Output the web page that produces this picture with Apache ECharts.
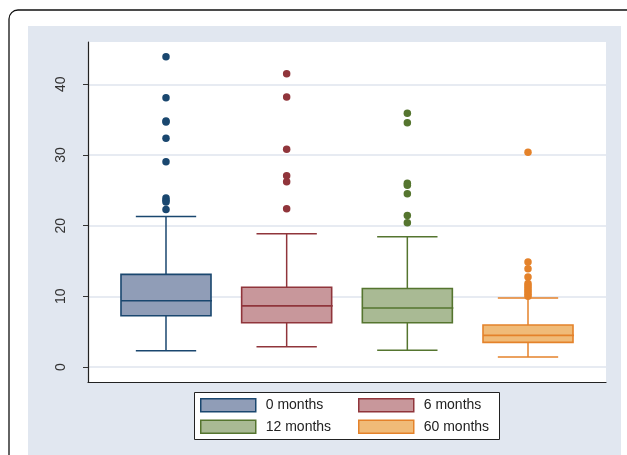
<!DOCTYPE html>
<html>
<head>
<meta charset="utf-8">
<script src="https://cdn.jsdelivr.net/npm/echarts@6/dist/echarts.min.js"></script>
<style>html,body{margin:0;padding:0;background:#fff}#c{width:627px;height:455px}</style>
</head>
<body>
<div id="c"></div>
<script>
// ---- data ----
const categories = ['0 months', '6 months', '12 months', '60 months'];
// [lower whisker, Q1, median, Q3, upper whisker]
const stats0 = [2.3, 7.26, 9.38, 13.1, 21.3];
const stats6 = [2.87, 6.27, 8.65, 11.28, 18.86];
const stats12 = [2.38, 6.27, 8.35, 11.1, 18.44];
const stats60 = [1.41, 3.49, 4.48, 5.94, 9.76];
const out0 = [43.9, 38.1, 34.8, 34.65, 32.35, 29.05, 23.9, 23.6, 23.35, 22.3];
const out6 = [41.5, 38.2, 30.8, 27.06, 26.2, 22.4];
const out12 = [35.9, 34.55, 26.0, 25.7, 24.5, 21.45, 20.4];
const out60 = [30.4, 14.85, 13.9, 12.75, 11.8, 11.5, 11.2, 10.9, 10.6, 10.3, 10.0];
const yTickInterval = 10;

const statsList = [stats0, stats6, stats12, stats60];
const outList = [out0, out6, out12, out60];
const strokes = ['#1a476f', '#90353b', '#55752f', '#e4822a'];
const fills = ['#909db7', '#c8979b', '#a9ba94', '#f0bb78'];

const BOX_W = 0.746, CAP_W = 0.5;
const FONT = '"Liberation Sans", Arial, Helvetica, sans-serif';

function makeRender(i) {
  return function (params, api) {
    const x = api.value(0);
    const lo = api.coord([x, api.value(1)]);
    const q1 = api.coord([x, api.value(2)]);
    const md = api.coord([x, api.value(3)]);
    const q3 = api.coord([x, api.value(4)]);
    const hi = api.coord([x, api.value(5)]);
    const hb = api.size([BOX_W, 0])[0] / 2;
    const hc = api.size([CAP_W, 0])[0] / 2;
    const c = lo[0];
    const ls = { stroke: strokes[i], lineWidth: 1.5 };
    return {
      type: 'group',
      children: [
        { type: 'line', shape: { x1: c, y1: lo[1], x2: c, y2: q1[1] }, style: ls },
        { type: 'line', shape: { x1: c, y1: q3[1], x2: c, y2: hi[1] }, style: ls },
        { type: 'line', shape: { x1: c - hc, y1: lo[1], x2: c + hc, y2: lo[1] }, style: ls },
        { type: 'line', shape: { x1: c - hc, y1: hi[1], x2: c + hc, y2: hi[1] }, style: ls },
        { type: 'rect', shape: { x: c - hb, y: q3[1], width: 2 * hb, height: q1[1] - q3[1] },
          style: { fill: fills[i], stroke: strokes[i], lineWidth: 1.6 } },
        { type: 'line', shape: { x1: c - hb, y1: md[1], x2: c + hb + 1, y2: md[1] }, style: { stroke: strokes[i], lineWidth: 1.6 } }
      ]
    };
  };
}

const series = [];
categories.forEach(function (name, i) {
  series.push({
    type: 'custom', name: name, xAxisIndex: 0, yAxisIndex: 0,
    renderItem: makeRender(i),
    itemStyle: { color: fills[i], borderColor: strokes[i] },
    encode: { x: 0, y: [1, 2, 3, 4, 5] },
    data: [[i + 1].concat(statsList[i])],
    silent: true
  });
  series.push({
    type: 'scatter', name: name, xAxisIndex: 0, yAxisIndex: 0,
    symbol: 'circle', symbolSize: 7.5,
    itemStyle: { color: strokes[i], opacity: 1 },
    data: outList[i].map(function (v) { return [i + 1, v]; }),
    silent: true
  });
});

function legendItem(i) {
  return { name: categories[i], icon: 'rect',
    itemStyle: { color: fills[i], borderColor: strokes[i], borderWidth: 1.5 } };
}
const legendText = { fontSize: 14, color: '#222', fontFamily: FONT, padding: [0, 0, 0, 5] };

const chart = echarts.init(document.getElementById('c'), null, { renderer: 'canvas' });
chart.setOption({
  animation: false,
  backgroundColor: '#ffffff',
  graphic: [
    { type: 'rect', z: -10, shape: { x: 9, y: 10, width: 660, height: 480, r: 9 },
      style: { fill: '#ffffff', stroke: '#111', lineWidth: 1.3 } },
    { type: 'rect', z: -9, shape: { x: 28, y: 26, width: 593, height: 440 },
      style: { fill: '#e1e7f0' } },
    { type: 'rect', z: -8, shape: { x: 88, y: 42, width: 518, height: 340 },
      style: { fill: '#ffffff' } },
    { type: 'rect', z: -8, shape: { x: 194.5, y: 392.5, width: 305, height: 47 },
      style: { fill: '#ffffff', stroke: '#222', lineWidth: 1 } }
  ],
  grid: [
    { left: 88, right: 21, top: 42, bottom: 73 },
    { left: 88, right: 21, top: 84.3, bottom: 88 }
  ],
  xAxis: [
    { type: 'value', gridIndex: 0, min: 0.3536, max: 4.6464,
      axisLine: { show: true, onZero: false, lineStyle: { color: '#222', width: 1.2 } },
      axisTick: { show: false }, axisLabel: { show: false }, splitLine: { show: false } },
    { type: 'value', gridIndex: 1, show: false, min: 0, max: 1 }
  ],
  yAxis: [
    { type: 'value', gridIndex: 0, min: -2.122, max: 45.985,
      axisLine: { show: true, onZero: false, lineStyle: { color: '#222', width: 1.2 } },
      axisTick: { show: false }, axisLabel: { show: false }, splitLine: { show: false } },
    { type: 'value', gridIndex: 1, min: 0, max: 40, interval: yTickInterval,
      axisLine: { show: false, onZero: false },
      axisTick: { show: true, length: 5, lineStyle: { color: '#333', width: 1 } },
      axisLabel: { rotate: 90, margin: 20, fontSize: 14, color: '#333', fontFamily: FONT },
      splitLine: { show: true, lineStyle: { color: '#dfe5ee', width: 1.5 } } }
  ],
  legend: [
    { orient: 'vertical', left: 200, top: 398, padding: 0, itemGap: 7,
      itemWidth: 55, itemHeight: 13, selectedMode: false,
      textStyle: legendText, data: [legendItem(0), legendItem(2)] },
    { orient: 'vertical', left: 358, top: 398, padding: 0, itemGap: 7,
      itemWidth: 55, itemHeight: 13, selectedMode: false,
      textStyle: legendText, data: [legendItem(1), legendItem(3)] }
  ],
  series: series
});
</script>
</body>
</html>
